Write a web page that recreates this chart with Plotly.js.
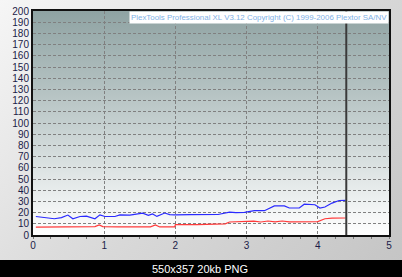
<!DOCTYPE html>
<html><head><meta charset="utf-8">
<script src="https://cdn.plot.ly/plotly-3.0.1.min.js"></script>
<style>
html,body{margin:0;padding:0;}
body{width:402px;height:277px;overflow:hidden;background:linear-gradient(135deg,#f6f6f6 0%,#dcdcdc 45%,#c4c4c4 100%);}
#chart{width:402px;height:277px;}
</style></head><body>
<div id="chart"></div>
<script>
// Data
const blueX = [0.04,0.1,0.2,0.3,0.4,0.49,0.56,0.66,0.75,0.87,0.94,1.01,1.15,1.22,1.36,1.45,1.54,1.62,1.68,1.74,1.8,1.85,1.92,2.0,2.2,2.4,2.6,2.76,2.85,2.97,3.05,3.11,3.25,3.39,3.53,3.6,3.74,3.81,3.96,4.03,4.1,4.2,4.3,4.39];
const blueY = [16.5,16,15,14.5,15.5,17.8,14.5,16.5,16.8,14.5,18,16.5,16.5,18,17.8,18.5,19.5,17.5,18.8,16.6,18.5,19.6,18.2,18,18.2,18,18.3,20.5,20,20.2,21,21.7,21.7,26,26,24.1,24.1,27.5,27,24,25,28.5,30.8,31];
const redX = [0.04,0.2,0.3,0.5,0.7,0.87,0.93,0.98,1.2,1.5,1.65,1.72,1.78,1.99,2.0,2.3,2.6,2.7,2.76,3.0,3.1,3.2,3.3,3.4,3.5,3.6,3.8,4.0,4.1,4.2,4.39];
const redY = [7,7,7.5,7.2,7.5,7.5,9,7.5,7.3,7.2,7.3,9,7.2,7.2,9.2,9.3,9.5,10,11.6,11.8,12.4,11.6,12.5,11.8,12.5,11.8,12,12,14.5,15,15.2];
const markerX = 4.4;
const titleText = "PlexTools Professional XL V3.12 Copyright (C) 1999-2006 Plextor SA/NV";
const captionText = "550x357 20kb PNG";
const yTicks = [0,10,20,30,40,50,60,70,80,90,100,110,120,130,140,150,160,170,180,190,200];
const xTicks = [0,1,2,3,4,5];

const grad = 'data:image/svg+xml;utf8,' + encodeURIComponent(
 '<svg xmlns="http://www.w3.org/2000/svg" width="100" height="100" preserveAspectRatio="none">' +
 '<defs><linearGradient id="g" x1="0" y1="0" x2="0" y2="1">' +
 '<stop offset="0" stop-color="#8fa3a3"/><stop offset="0.5" stop-color="#c4cfcf"/><stop offset="1" stop-color="#ffffff"/>' +
 '</linearGradient></defs><rect width="100" height="100" fill="url(#g)"/></svg>');

const data = [
 {x: redX, y: redY, type:'scatter', mode:'lines', line:{color:'#ff3a3a', width:1.2}, hoverinfo:'skip'},
 {x: blueX, y: blueY, type:'scatter', mode:'lines', line:{color:'#2a2aff', width:1.2}, hoverinfo:'skip'}
];
const tickFont = {family:'Liberation Sans, Arial, sans-serif', size:10, color:'#1c1c48'};
const layout = {
 width:402, height:277,
 margin:{l:33, r:13, t:11, b:42, pad:0},
 paper_bgcolor:'rgba(0,0,0,0)', plot_bgcolor:'rgba(0,0,0,0)',
 showlegend:false,
 xaxis:{range:[0,5], tickvals:xTicks, ticktext:xTicks.map(String), showgrid:true, gridcolor:'#808080', griddash:'3px,2px', gridwidth:1,
   zeroline:false, showline:true, linecolor:'#111', linewidth:2, mirror:true, ticks:'', tickfont:tickFont, fixedrange:true,
   minor:{dtick:0.25, ticks:'outside', ticklen:2, tickcolor:'#777', showgrid:false}},
 yaxis:{range:[0,200], tickvals:yTicks, ticktext:yTicks.map(String), showgrid:true, gridcolor:'#808080', griddash:'3px,2px', gridwidth:1,
   zeroline:false, showline:true, linecolor:'#111', linewidth:2, mirror:true, ticks:'', tickfont:tickFont, fixedrange:true},
 images:[{source:grad, xref:'paper', yref:'paper', x:0, y:1, sizex:1, sizey:1, sizing:'stretch', layer:'below', xanchor:'left', yanchor:'top'}],
 shapes:[
  {type:'line', xref:'x', yref:'y', x0:markerX, x1:markerX, y0:0, y1:200, line:{color:'#3a3a3a', width:2}},
  {type:'rect', xref:'paper', yref:'paper', x0:-0.1, x1:1.05, y0:-0.19, y1:-0.1116, fillcolor:'#000', line:{width:0}}
 ],
 annotations:[
  {text:titleText, xref:'paper', yref:'paper', x:1, y:1, xanchor:'right', yanchor:'top', showarrow:false,
   bgcolor:'#ffffff', borderpad:1, font:{family:'Liberation Sans, Arial, sans-serif', size:7.9, color:'#7fb2e6'}},
  {text:captionText, xref:'paper', yref:'paper', x:0.47, y:-0.15, xanchor:'center', yanchor:'middle', showarrow:false,
   font:{family:'Liberation Sans, Arial, sans-serif', size:11, color:'#ffffff'}}
 ]
};
Plotly.newPlot('chart', data, layout, {staticPlot:true, displayModeBar:false});
</script>
</body></html>
